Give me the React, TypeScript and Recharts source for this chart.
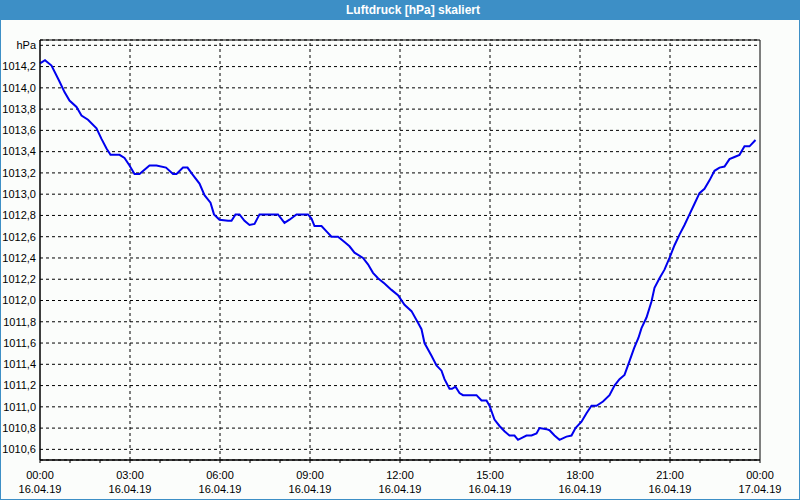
import { LineChart, Line, XAxis, YAxis, CartesianGrid, ReferenceLine, ReferenceArea } from 'recharts';

// time in minutes since 16.04.19 00:00
const minutes = [
  0, 10, 23, 39, 49, 59, 73, 83, 96, 113, 123, 133, 141, 159, 169, 179, 189, 199, 219, 233,
  252, 266, 273, 286, 295, 306, 319, 329, 341, 348, 359, 376, 383, 391, 399, 409, 419, 429, 439, 466,
  476, 489, 499, 513, 536, 543, 549, 563, 573, 583, 596, 609, 619, 629, 646, 656, 666, 676, 689, 703,
  716, 729, 743, 756, 763, 769, 783, 793, 803, 809, 819, 824, 831, 839, 846, 873, 883, 893, 899, 909,
  919, 929, 939, 949, 956, 973, 983, 993, 999, 1013, 1019, 1029, 1039, 1053, 1063, 1071, 1083, 1093, 1103, 1113,
  1126, 1139, 1149, 1159, 1169, 1179, 1188, 1197, 1203, 1213, 1223, 1229, 1239, 1249, 1259, 1269, 1279, 1289, 1299, 1309,
  1319, 1329, 1339, 1349, 1359, 1369, 1379, 1389, 1399, 1409, 1419, 1431,
];

const pressure = [
  1014.23, 1014.26, 1014.21, 1014.06, 1013.96, 1013.88, 1013.82, 1013.74, 1013.7, 1013.62, 1013.52, 1013.43, 1013.37, 1013.37, 1013.34, 1013.27, 1013.19, 1013.19, 1013.27, 1013.27,
  1013.25, 1013.19, 1013.19, 1013.25, 1013.25, 1013.18, 1013.1, 1012.99, 1012.92, 1012.81, 1012.76, 1012.75, 1012.75, 1012.81, 1012.81, 1012.75, 1012.71, 1012.72, 1012.81, 1012.81,
  1012.81, 1012.73, 1012.76, 1012.81, 1012.81, 1012.77, 1012.7, 1012.7, 1012.65, 1012.6, 1012.6, 1012.55, 1012.51, 1012.45, 1012.4, 1012.34, 1012.26, 1012.21, 1012.16, 1012.1,
  1012.05, 1011.96, 1011.9, 1011.79, 1011.73, 1011.6, 1011.48, 1011.39, 1011.34, 1011.26, 1011.17, 1011.17, 1011.19, 1011.13, 1011.11, 1011.11, 1011.06, 1011.06, 1011.01, 1010.88,
  1010.82, 1010.77, 1010.73, 1010.73, 1010.69, 1010.73, 1010.73, 1010.75, 1010.8, 1010.79, 1010.78, 1010.73, 1010.69, 1010.72, 1010.73, 1010.8, 1010.86, 1010.94, 1011.01, 1011.01,
  1011.05, 1011.11, 1011.2, 1011.26, 1011.3, 1011.43, 1011.55, 1011.65, 1011.74, 1011.84, 1011.99, 1012.12, 1012.21, 1012.29, 1012.4, 1012.52, 1012.62, 1012.71, 1012.81, 1012.91,
  1013.01, 1013.05, 1013.13, 1013.22, 1013.25, 1013.26, 1013.33, 1013.35, 1013.37, 1013.45, 1013.45, 1013.51,
];

const hourTicks = [0, 60, 120, 180, 240, 300, 360, 420, 480, 540, 600, 660, 720, 780, 840, 900, 960, 1020, 1080, 1140, 1200, 1260, 1320, 1380, 1440];
const majorTicks = [180, 360, 540, 720, 900, 1080, 1260];
const timeLabels = ['00:00', '03:00', '06:00', '09:00', '12:00', '15:00', '18:00', '21:00', '00:00'];
const dateLabels = ['16.04.19', '16.04.19', '16.04.19', '16.04.19', '16.04.19', '16.04.19', '16.04.19', '16.04.19', '17.04.19'];
const yTicks = [1010.6, 1010.8, 1011.0, 1011.2, 1011.4, 1011.6, 1011.8, 1012.0, 1012.2, 1012.4, 1012.6, 1012.8, 1013.0, 1013.2, 1013.4, 1013.6, 1013.8, 1014.0, 1014.2, 1014.4];

const FONT = '"Liberation Sans", Arial, sans-serif';
const BLUE = '#3d8fc6';

const data = minutes.map((t, i) => ({ t, p: pressure[i] }));

function TimeTick(props: any) {
  const { x, y, payload } = props;
  if (payload.value % 180 !== 0) return null;
  const i = payload.value / 180;
  return (
    <text x={x} y={y} textAnchor="middle" fontFamily={FONT} fontSize={11} fill="#000">
      <tspan x={x} dy={14}>{timeLabels[i]}</tspan>
      <tspan x={x} dy={14}>{dateLabels[i]}</tspan>
    </text>
  );
}

function PressureTick(props: any) {
  const { x, y, payload } = props;
  const v = payload.value;
  const label = v > 1014.3 ? 'hPa' : v.toFixed(1).replace('.', ',');
  return (
    <text x={x} y={y} dy="0.35em" textAnchor="end" fontFamily={FONT} fontSize={11} fill="#000">
      {label}
    </text>
  );
}

export default function App() {
  return (
    <div style={{ position: 'absolute', left: 0, top: 0, width: 800, height: 500, background: '#fbfdfb', overflow: 'hidden' }}>
      <LineChart width={800} height={500} data={data} margin={{ top: 40, right: 40, bottom: 0, left: 0 }}>
        <CartesianGrid vertical={false} stroke="#000" strokeDasharray="3 3" />
        <XAxis
          type="number"
          dataKey="t"
          domain={[0, 1440]}
          ticks={hourTicks}
          tick={<TimeTick />}
          tickSize={3}
          tickLine={{ stroke: '#000' }}
          axisLine={{ stroke: '#000' }}
          height={40}
          interval={0}
        />
        <YAxis
          type="number"
          domain={[1010.5, 1014.45]}
          allowDataOverflow
          ticks={yTicks}
          tick={<PressureTick />}
          tickLine={false}
          tickSize={2}
          tickMargin={2}
          axisLine={{ stroke: '#000' }}
          width={40}
          interval={0}
        />
        {majorTicks.map((m) => (
          <ReferenceLine key={m} x={m} stroke="#000" strokeDasharray="3 3" />
        ))}
        <ReferenceArea x1={0} x2={1440} y1={1010.5} y2={1014.45} fill="none" stroke="#000" strokeWidth={1} />
        <Line type="linear" dataKey="p" stroke="#0000ee" strokeWidth={2} dot={false} isAnimationActive={false} />
      </LineChart>
      <div
        style={{
          position: 'absolute',
          left: 0,
          top: 0,
          width: 800,
          height: 20,
          background: BLUE,
          color: '#fff',
          fontFamily: FONT,
          fontWeight: 'bold',
          fontSize: 12,
          lineHeight: '20px',
          textAlign: 'center',
          paddingLeft: 26,
          boxSizing: 'border-box',
        }}
      >
        Luftdruck [hPa] skaliert
      </div>
      <div
        style={{
          position: 'absolute',
          left: 0,
          top: 0,
          width: 800,
          height: 500,
          border: `1px solid ${BLUE}`,
          boxSizing: 'border-box',
          pointerEvents: 'none',
        }}
      />
    </div>
  );
}
